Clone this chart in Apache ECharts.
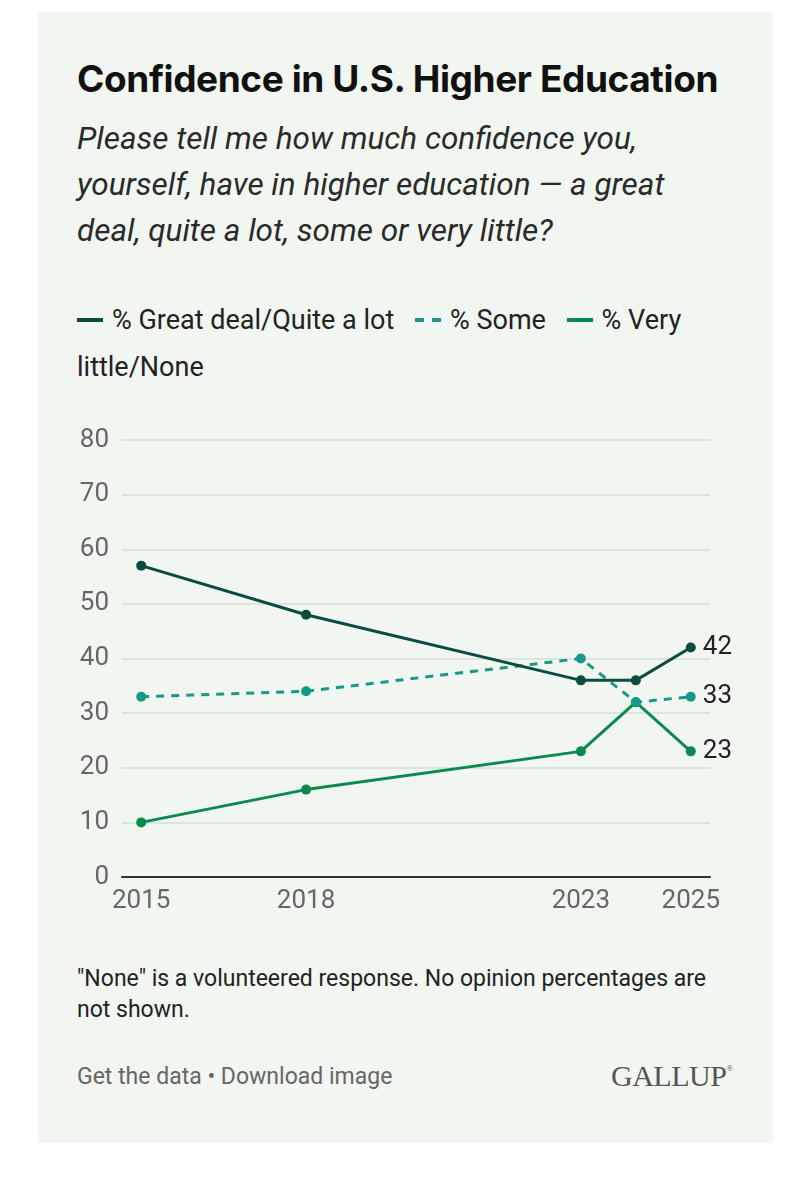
<!DOCTYPE html>
<html>
<head>
<meta charset="utf-8">
<title>Confidence in U.S. Higher Education</title>
<script src="https://cdn.jsdelivr.net/npm/echarts@6.0.0/dist/echarts.min.js"></script>
<style>
    html, body { margin: 0; padding: 0; background: #ffffff; }
    body { width: 812px; height: 1200px; position: relative; overflow: hidden; font-family: Roboto, "Noto Sans", sans-serif; }
    #panel { position: absolute; left: 38px; top: 12px; width: 735px; height: 1131px; background: #f1f7f0; }
    .title { position: absolute; left: 77px; top: 56px; font-family: Inter, sans-serif; font-weight: 700; font-size: 37px; letter-spacing: -0.4px; color: #111; white-space: nowrap; }
    .subtitle { position: absolute; left: 77px; top: 116px; width: 625px; font-style: italic; font-size: 31.5px; line-height: 46px; color: #2a2a2a; }
    #legend { position: absolute; left: 77px; top: 297px; width: 650px; font-size: 27px; line-height: 47px; color: #222; }
    #legend .sw { display: inline-block; width: 26px; height: 4px; vertical-align: middle; margin: 0 9px 4px 0; }
    #legend .gap { display: inline-block; width: 14px; }
    .note { position: absolute; left: 77px; top: 963px; width: 650px; font-size: 23px; line-height: 31px; color: #222; }
    .links { position: absolute; left: 77px; top: 1063px; font-size: 23px; color: #666; }
    .logo { position: absolute; left: 611px; top: 1059px; font-family: "Liberation Serif", "DejaVu Serif", serif; font-size: 30px; color: #555; letter-spacing: -0.5px; }
    .logo sup { font-size: 9px; vertical-align: 15px; }
    #chart { position: absolute; left: 0; top: 400px; width: 812px; height: 540px; }
</style>
</head>
<body>
<div id="panel"></div>
<div class="title">Confidence in U.S. Higher Education</div>
<div class="subtitle">Please tell me how much confidence you, yourself, have in higher education — a great deal, quite a lot, some or very little?</div>
<div id="legend"></div>
<div id="chart"></div>
<div class="note">"None" is a volunteered response. No opinion percentages are not shown.</div>
<div class="links">Get the data • Download image</div>
<div class="logo">GALLUP<sup>®</sup></div>

<script>
    // 数据
    var years = [2015, 2018, 2023, 2024, 2025];
    var yearLabels = [2015, 2018, 2023, 2025];
    var seriesNames = ["% Great deal/Quite a lot", "% Some", "% Very little/None"];
    var greatDeal = [57, 48, 36, 36, 42];
    var some = [33, 34, 40, 32, 33];
    var veryLittle = [10, 16, 23, 32, 23];
    var colors = ["#0c4b40", "#16998a", "#0b8a4f"];

    //拼成 [year, value]
    function fnPairs(values) {
        return years.map(function (y, i) { return [y, values[i]]; });
    }

    //图例，用html写，这样换行跟原图一样
    var legendHtml = seriesNames.map(function (name, i) {
        var bg = colors[i];
        if (i === 1) {
            bg = "repeating-linear-gradient(to right, " + colors[i] + " 0 9px, transparent 9px 17px)";
        }
        return '<span class="sw" style="background:' + bg + ';"></span>' + name;
    }).join('<span class="gap"></span> ');
    document.getElementById("legend").innerHTML = legendHtml;

    function fnLine(name, values, color, dashed) {
        return {
            name: name,
            type: "line",
            data: fnPairs(values),
            symbol: "circle",
            symbolSize: 10,
            itemStyle: { color: color },
            lineStyle: { color: color, width: 3, type: dashed ? [8, 7] : "solid" },
            endLabel: {
                show: true,
                formatter: function (p) { return p.value[1]; },
                color: "#222",
                fontSize: 26,
                fontFamily: "Roboto",
                distance: 12
            },
            animation: false,
            silent: true
        };
    }

    var myChart = echarts.init(document.getElementById("chart"));
    myChart.setOption({
        backgroundColor: "transparent",
        grid: { left: 122, right: 102, top: 40, bottom: 63, containLabel: false },
        xAxis: {
            type: "value",
            min: 2014.65,
            max: 2025.35,
            axisLine: { show: true, onZero: true, lineStyle: { color: "#333", width: 2 } },
            axisTick: { show: false },
            splitLine: { show: false },
            axisLabel: {
                customValues: yearLabels,
                formatter: function (v) { return String(v); },
                color: "#666",
                fontSize: 26,
                fontFamily: "Roboto",
                margin: 11
            }
        },
        yAxis: {
            type: "value",
            min: 0,
            max: 80,
            interval: 10,
            axisLine: { show: false },
            axisTick: { show: false },
            splitLine: { lineStyle: { color: "#d9ddd7", width: 1.5 } },
            axisLabel: { color: "#666", fontSize: 26, fontFamily: "Roboto", margin: 13 }
        },
        series: [
            fnLine(seriesNames[2], veryLittle, colors[2], false),
            fnLine(seriesNames[1], some, colors[1], true),
            fnLine(seriesNames[0], greatDeal, colors[0], false)
        ]
    });
</script>
</body>
</html>
